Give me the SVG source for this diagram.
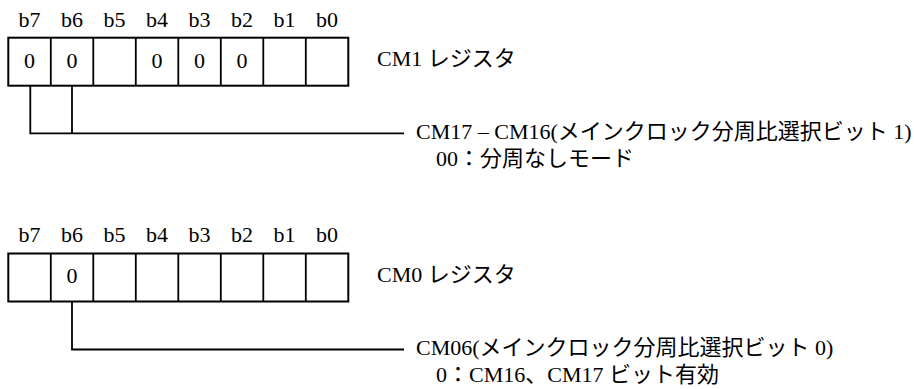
<svg xmlns="http://www.w3.org/2000/svg" width="914" height="389" viewBox="0 0 914 389">
<style>
text{font-family:'Liberation Serif','Noto Sans CJK JP',serif;font-size:22px;fill:#000}
.c{text-anchor:middle}
.box{fill:#fff;stroke:#000;stroke-width:2}
.ln{fill:none;stroke:#000;stroke-width:1.8}
</style>
<rect width="914" height="389" fill="#fff"/>
<g id="reg-cm1">
<g class="c">
<text x="29.5" y="27">b7</text><text x="72" y="27">b6</text><text x="114.5" y="27">b5</text><text x="157" y="27">b4</text><text x="199.5" y="27">b3</text><text x="242" y="27">b2</text><text x="284.5" y="27">b1</text><text x="327" y="27">b0</text>
</g>
<rect class="box" x="8.3" y="37.7" width="340" height="48"/>
<path class="ln" d="M50.8 37.7V85.7M93.3 37.7V85.7M135.8 37.7V85.7M178.3 37.7V85.7M220.8 37.7V85.7M263.3 37.7V85.7M305.8 37.7V85.7"/>
<g class="c">
<text x="29.5" y="68">0</text><text x="72" y="68">0</text><text x="157" y="68">0</text><text x="199.5" y="68">0</text><text x="242" y="68">0</text>
</g>
<text x="377" y="66">CM1 レジスタ</text>
</g>
<g id="reg-cm0">
<g class="c">
<text x="29.5" y="242">b7</text><text x="72" y="242">b6</text><text x="114.5" y="242">b5</text><text x="157" y="242">b4</text><text x="199.5" y="242">b3</text><text x="242" y="242">b2</text><text x="284.5" y="242">b1</text><text x="327" y="242">b0</text>
</g>
<rect class="box" x="8.3" y="253.5" width="340" height="48"/>
<path class="ln" d="M50.8 253.5V301.5M93.3 253.5V301.5M135.8 253.5V301.5M178.3 253.5V301.5M220.8 253.5V301.5M263.3 253.5V301.5M305.8 253.5V301.5"/>
<text class="c" x="72" y="283">0</text>
<text x="377" y="282">CM0 レジスタ</text>
</g>
<g id="desc-cm1">
<text x="416" y="139">CM17 – CM16(メインクロック分周比選択ビット 1)</text>
<text x="436" y="166">00：分周なしモード</text>
</g>
<g id="desc-cm0">
<text x="416" y="355">CM06(メインクロック分周比選択ビット 0)</text>
<text x="436" y="382">0：CM16、CM17 ビット有効</text>
</g>
<g id="connectors">
<path class="ln" d="M30.3 85.7V133.3H404M72 85.7V133.3"/>
<path class="ln" d="M72 301.5V349.5H404"/>
</g>
</svg>
